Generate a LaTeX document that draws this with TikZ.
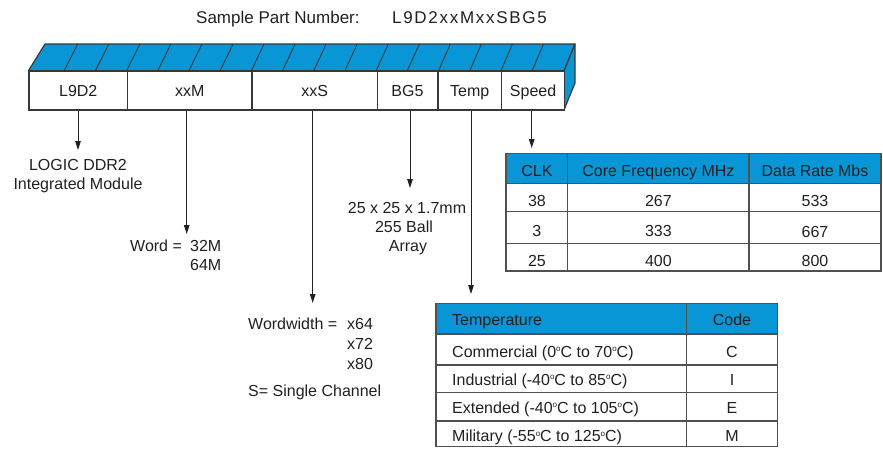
\documentclass[tikz,border=0pt]{standalone}
\usepackage{fontspec}
\setmainfont{Liberation Sans}
\newfontfamily\spacedfont[LetterSpace=10]{Liberation Sans}
\usetikzlibrary{arrows.meta,calc}
\definecolor{pblue}{RGB}{8,150,214}
\definecolor{ink}{RGB}{35,31,32}
\definecolor{edge}{RGB}{55,55,55}
\definecolor{tline}{RGB}{80,80,80}
\newcommand{\dg}{\raisebox{5.5pt}{\fontsize{8}{8}\selectfont o}}
\begin{document}
\begin{tikzpicture}[x=1pt,y=-1pt,
  txt/.style={inner sep=0pt, font=\fontsize{16}{19}\selectfont, text=ink},
  btxt/.style={txt, anchor=base},
  wtxt/.style={txt, anchor=base west},
  cell/.style={draw=edge, line width=1.2pt, fill=white, minimum height=39pt,
    inner sep=0pt, text height=11.4pt, text depth=0pt, anchor=west,
    font=\fontsize{16}{19}\selectfont, text=ink},
  face/.style={draw=edge, line width=1.2pt, fill=pblue, line join=round},
  stripe/.style={draw=edge, line width=0.9pt},
  arr/.style={draw=ink, line width=1pt, -{Triangle[length=9pt,width=5.5pt]}},
  tab/.style={draw=tline, line width=1.3pt},
  hdr/.style={fill=pblue}
]
\useasboundingbox (0,0) rectangle (883,450);

% title
\node[wtxt, font=\fontsize{17}{20}\selectfont] (title) at (196,23) {Sample Part Number:};
\node[wtxt, font=\spacedfont\fontsize{17}{20}\selectfont] (pn) at (392,23) {L9D2xxMxxSBG5};

% 3D bar: top and side faces
\draw[face] (28.3,71) -- (45,44) -- (575,44) -- (564,71) -- cycle;
\draw[face] (564,71) -- (575,44) -- (575,83) -- (564,110) -- cycle;
\foreach \k in {0,...,15}{
  \pgfmathsetmacro{\xb}{64+31.2*\k}
  \pgfmathsetmacro{\xt}{\xb+13.8-2.3*(\xb-64)/468}
  \draw[stripe] (\xb,71) -- (\xt,44);
}

% front cells
\node[cell, minimum width=98.7pt] (c1) at (28.3,90.5) {L9D2};
\node[cell, minimum width=124.4pt] (c2) at (127,90.5) {xxM};
\node[cell, minimum width=124.9pt] (c3) at (251.6,90.5) {xxS};
\node[cell, minimum width=60.8pt] (c4) at (376.5,90.5) {BG5};
\node[cell, minimum width=63.7pt] (c5) at (437.3,90.5) {Temp};
\node[cell, minimum width=63pt] (c6) at (501,90.5) {Speed};

% arrow ends
\coordinate (e1) at (78,150);
\coordinate (e2) at (186.7,234);
\coordinate (e3) at (312.7,303);
\coordinate (e4) at (410,188);
\coordinate (e5) at (471,294);
\coordinate (e6) at (531.7,148);
\draw[arr] (c1.south -| e1) -- (e1);
\draw[arr] (c2.south -| e2) -- (e2);
\draw[arr] (c3.south -| e3) -- (e3);
\draw[arr] (c4.south -| e4) -- (e4);
\draw[arr] (c5.south -| e5) -- (e5);
\draw[arr] (c6.south -| e6) -- (e6);

% descriptions
\node[btxt] (l1a) at (78,170) {LOGIC DDR2};
\node[btxt] (l1b) at (78,189) {Integrated Module};
\node[wtxt] (w1) at (130,251) {Word =};
\node[wtxt] (w2) at (190,251) {32M};
\node[wtxt] (w3) at (190,270) {64M};
\node[btxt] (b1) at (407,213) {25 x 25 x 1.7mm};
\node[btxt] (b2) at (404,232) {255 Ball};
\node[btxt] (b3) at (408,251) {Array};
\node[wtxt] (ww) at (248,329) {Wordwidth =};
\node[wtxt] (x1) at (347,329) {x64};
\node[wtxt] (x2) at (347,349) {x72};
\node[wtxt] (x3) at (347,369) {x80};
\node[wtxt] (sc) at (248,396) {S= Single Channel};

% CLK table
\fill[hdr] (506,153.3) rectangle (881,183.3);
\draw[tab] (506,153.3) rectangle (881,271);
\draw[tab] (506,183.3) -- (881,183.3);
\draw[tab] (506,211.7) -- (881,211.7);
\draw[tab] (506,243.3) -- (881,243.3);
\draw[tab] (567.7,153.3) -- (567.7,271);
\draw[tab] (749,153.3) -- (749,271);
\node[btxt] (h1) at (536.9,176) {CLK};
\node[btxt] (h2) at (658.4,176) {Core Frequency MHz};
\node[btxt] (h3) at (815,176) {Data Rate Mbs};
\node[btxt] (r11) at (536.9,206) {38};
\node[btxt] (r12) at (658.4,206) {267};
\node[btxt] (r13) at (815,206) {533};
\node[btxt] (r21) at (536.9,236) {3};
\node[btxt] (r22) at (658.4,236) {333};
\node[btxt] (r23) at (815,237) {667};
\node[btxt] (r31) at (536.9,266.5) {25};
\node[btxt] (r32) at (658.4,266.5) {400};
\node[btxt] (r33) at (815,266.5) {800};

% Temperature table
\fill[hdr] (436,303.3) rectangle (777.7,334);
\draw[tab] (436,303.3) rectangle (777.7,446.7);
\draw[tab] (436,334) -- (777.7,334);
\draw[tab] (436,365) -- (777.7,365);
\draw[tab] (436,392.7) -- (777.7,392.7);
\draw[tab] (436,421) -- (777.7,421);
\draw[tab] (686.7,303.3) -- (686.7,446.7);
\node[wtxt] (th1) at (452,325) {Temperature};
\node[btxt] (th2) at (732,325) {Code};
\node[wtxt] (t1) at (452,357) {Commercial (0\dg C to 70\dg C)};
\node[btxt] (k1) at (732,357) {C};
\node[wtxt] (t2) at (452,385) {Industrial (-40\dg C to 85\dg C)};
\node[btxt] (k2) at (732,385) {I};
\node[wtxt] (t3) at (452,413) {Extended (-40\dg C to 105\dg C)};
\node[btxt] (k3) at (732,413) {E};
\node[wtxt] (t4) at (452,441.5) {Military (-55\dg C to 125\dg C)};
\node[btxt] (k4) at (732,441.5) {M};
\end{tikzpicture}
\end{document}
